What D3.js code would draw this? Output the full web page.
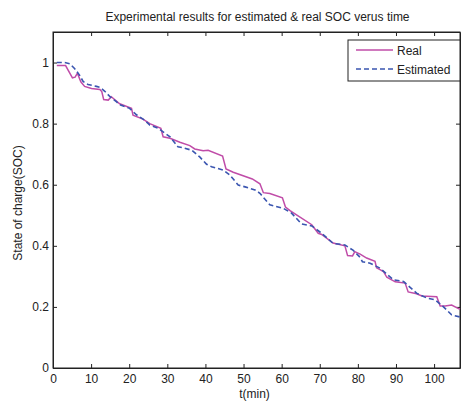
<!DOCTYPE html>
<meta charset="utf-8">
<style>
body { margin: 0; background: #fff; }
svg { display: block; font-family: "Liberation Sans", Arial, sans-serif; }
.axis text { font-size: 12px; fill: #222; }
.axis path, .axis line { stroke: #222; }
</style>
<svg width="461" height="403"></svg>
<script src="https://d3js.org/d3.v7.min.js"></script>
<script>
// data
var realT = [1, 3.3, 5.1, 5.8, 6.4, 7.3, 8.3, 10.1, 12.3, 12.8, 13.3, 14.5, 15.3, 17.5, 20.6, 21, 23.6, 25.4, 28.3, 28.9,
  30.7, 33.3, 35.9, 37.2, 39.4, 40.7, 44.5, 45.4, 47.3, 52.3, 54.3, 55.2, 56.9, 60.2, 61, 62.2, 63.9, 67.9, 69.6, 70.5,
  73.5, 76.6, 77.3, 78.6, 79.2, 80.6, 82.3, 84.5, 84.9, 85.8, 86.7, 87.6, 89.8, 92.4, 93.2, 95.4, 96.8, 98.1, 100.7,
  101.6, 102.9, 104.6, 106.8];
var realSOC = [0.99, 0.99, 0.95, 0.952, 0.965, 0.937, 0.922, 0.915, 0.912, 0.905, 0.879, 0.877, 0.888, 0.865, 0.85, 0.828,
  0.815, 0.80, 0.785, 0.757, 0.752, 0.739, 0.728, 0.717, 0.711, 0.713, 0.694, 0.652, 0.641, 0.619, 0.603, 0.574, 0.571,
  0.557, 0.527, 0.515, 0.501, 0.469, 0.441, 0.437, 0.409, 0.400, 0.368, 0.367, 0.381, 0.373, 0.360, 0.349, 0.328, 0.322,
  0.316, 0.297, 0.282, 0.278, 0.249, 0.243, 0.236, 0.235, 0.233, 0.203, 0.203, 0.206, 0.192];

var estT = [1, 3.1, 4.4, 5.7, 7, 7.9, 9.2, 11.4, 12.3, 13.6, 14.9, 16.7, 17.5, 20.1, 21.9, 24.1, 25.4, 27.6, 30.7, 32.8,
  34.1, 36.4, 38.5, 40.3, 41.6, 44.7, 46.4, 48.6, 50.4, 53, 54.3, 56.9, 60.4, 62.6, 65.2, 67.9, 70.5, 73.5, 76.6, 78.8,
  80.6, 81.2, 83.2, 85.8, 89.3, 92, 95.4, 98.1, 100.3, 102.4, 104.6, 106.8];
var estSOC = [1.0, 1.0, 0.996, 0.98, 0.958, 0.938, 0.928, 0.922, 0.919, 0.906, 0.889, 0.871, 0.862, 0.85, 0.829, 0.811,
  0.795, 0.785, 0.757, 0.724, 0.721, 0.713, 0.691, 0.667, 0.659, 0.648, 0.632, 0.599, 0.593, 0.583, 0.572, 0.534, 0.523,
  0.507, 0.472, 0.465, 0.441, 0.408, 0.403, 0.385, 0.362, 0.348, 0.343, 0.327, 0.289, 0.283, 0.245, 0.229, 0.223, 0.201,
  0.174, 0.167];

var xTicks = [0, 10, 20, 30, 40, 50, 60, 70, 80, 90, 100];
var yTicks = [0, 0.2, 0.4, 0.6, 0.8, 1];
var seriesNames = ['Real', 'Estimated'];

var svgElem = d3.select('svg');
var margin = { top: 32, left: 53, bottom: 35, right: 1 };
var width = +svgElem.attr('width') - margin.left - margin.right;
var height = +svgElem.attr('height') - margin.top - margin.bottom;
var g = svgElem.append('g')
  .attr('transform', `translate(${margin.left}, ${margin.top})`);

var x = d3.scaleLinear().domain([0, 106.8]).range([0, width]);
var y = d3.scaleLinear().domain([0, 1.1]).range([height, 0]);

// axes, MATLAB style ticks pointing inward
g.append('g')
  .attr('class', 'axis')
  .attr('transform', `translate(0, ${height})`)
  .call(d3.axisBottom(x).tickValues(xTicks).tickSizeInner(-4).tickSizeOuter(0).tickPadding(6).tickFormat(d3.format('d')));
g.append('g')
  .attr('class', 'axis')
  .call(d3.axisLeft(y).tickValues(yTicks).tickSizeInner(-4).tickSizeOuter(0).tickPadding(4).tickFormat(function (d) { return d === 0 || d === 1 ? d : d.toFixed(1); }));
g.append('g')
  .attr('class', 'axis')
  .call(d3.axisTop(x).tickValues(xTicks).tickSizeInner(-4).tickSizeOuter(0).tickFormat(''));
g.append('g')
  .attr('class', 'axis')
  .attr('transform', `translate(${width}, 0)`)
  .call(d3.axisRight(y).tickValues(yTicks).tickSizeInner(-4).tickSizeOuter(0).tickFormat(''));

g.append('rect')
  .attr('width', width)
  .attr('height', height)
  .attr('fill', 'none')
  .attr('stroke', '#222');

var line = d3.line()
  .x(function (d) { return x(d[0]); })
  .y(function (d) { return y(d[1]); });

var realData = realT.map(function (t, i) { return [t, realSOC[i]]; });
var estData = estT.map(function (t, i) { return [t, estSOC[i]]; });

g.append('path')
  .datum(realData)
  .attr('fill', 'none')
  .attr('stroke', '#c04ca8')
  .attr('stroke-width', 1.5)
  .attr('d', line);

g.append('path')
  .datum(estData)
  .attr('fill', 'none')
  .attr('stroke', '#3a55b0')
  .attr('stroke-width', 1.6)
  .attr('stroke-dasharray', '5,3')
  .attr('d', line);

// labels
svgElem.append('text')
  .attr('x', margin.left + width / 2 + 1)
  .attr('y', 21)
  .attr('text-anchor', 'middle')
  .style('font-size', '12px')
  .attr('fill', '#222')
  .text('Experimental results for estimated & real SOC verus time');

svgElem.append('text')
  .attr('x', margin.left + width / 2 - 2)
  .attr('y', 398)
  .attr('text-anchor', 'middle')
  .style('font-size', '12px')
  .attr('fill', '#222')
  .text('t(min)');

svgElem.append('text')
  .attr('transform', `translate(22, ${margin.top + height / 2 + 3}) rotate(-90)`)
  .attr('text-anchor', 'middle')
  .style('font-size', '12px')
  .attr('fill', '#222')
  .text('State of charge(SOC)');

// legend
var legend = svgElem.append('g').attr('transform', 'translate(348, 40)');
legend.append('rect')
  .attr('width', 112)
  .attr('height', 41)
  .attr('fill', '#fff')
  .attr('stroke', '#222');
var colors = ['#c04ca8', '#3a55b0'];
seriesNames.forEach(function (name, i) {
  legend.append('line')
    .attr('x1', 8).attr('x2', 45)
    .attr('y1', 10 + i * 19).attr('y2', 10 + i * 19)
    .attr('stroke', colors[i])
    .attr('stroke-width', 1.5)
    .attr('stroke-dasharray', i === 1 ? '5,3' : null);
  legend.append('text')
    .attr('x', 49)
    .attr('y', 14.5 + i * 19)
    .style('font-size', '12px')
    .attr('fill', '#222')
    .text(name);
});
</script>
